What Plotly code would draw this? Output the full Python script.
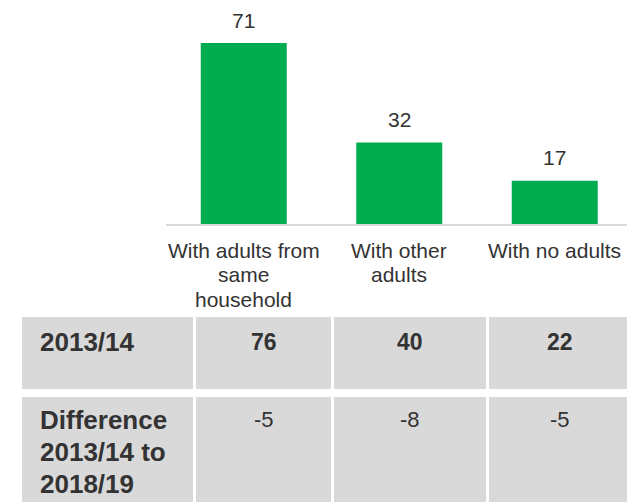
import plotly.graph_objects as go

# ---- data ----
categories = ["With adults from<br>same<br>household", "With other<br>adults", "With no adults"]
values_2018 = [71, 32, 17]
table_labels = ["2013/14", "Difference<br>2013/14 to<br>2018/19"]
values_2013 = [76, 40, 22]
differences = [-5, -8, -5]

# ---- style ----
OFF = 8  # page body margin
W, H = 635 - OFF, 502 - OFF
GREEN = "#00AC50"
GREY = "#D9D9D9"
TXT = "#333333"
FONT = "Liberation Sans, Arial, sans-serif"

def px_x(p):
    return (p - OFF) / W

def px_y(p):
    return 1 - (p - OFF) / H

fig = go.Figure()
fig.add_trace(go.Bar(
    x=categories, y=values_2018, marker=dict(color=GREEN, line=dict(width=0)),
    hoverinfo="skip", showlegend=False,
))

annotations = []
# value labels above bars
for c, v in zip(categories, values_2018):
    annotations.append(dict(x=c, y=v, xref="x", yref="y", text=str(v), showarrow=False,
                            yanchor="middle", xanchor="center", yshift=23,
                            font=dict(family=FONT, size=21, color=TXT)))

# category labels, one annotation per line
cat_first_line = 250
cat_spacing = 24.5
for c in categories:
    for i, line in enumerate(c.split("<br>")):
        annotations.append(dict(x=c, y=px_y(cat_first_line + i * cat_spacing), xref="x", yref="paper",
                                text=line, showarrow=False, yanchor="middle", xanchor="center",
                                font=dict(family=FONT, size=21, color=TXT)))

# table geometry (pixels in the page)
col_edges = [(22, 193), (196, 331), (334, 486), (489, 630)]
row_edges = [(317, 389), (397, 512)]
shapes = []
for (y0, y1) in row_edges:
    for (x0, x1) in col_edges:
        shapes.append(dict(type="rect", xref="paper", yref="paper",
                           x0=px_x(x0), x1=px_x(x1), y0=px_y(y1), y1=px_y(y0),
                           fillcolor=GREY, line=dict(width=0), layer="below"))

row_text_centers = [341.5, 419.7]
label_spacing = 32
label_x = 38
for r, lab in enumerate(table_labels):
    for i, line in enumerate(lab.split("<br>")):
        annotations.append(dict(x=px_x(label_x), y=px_y(row_text_centers[r] + i * label_spacing),
                                xref="paper", yref="paper", text="<b>" + line + "</b>", showarrow=False,
                                xanchor="left", yanchor="middle",
                                font=dict(family=FONT, size=26, color=TXT)))

for j, v in enumerate(values_2013):
    x0, x1 = col_edges[j + 1]
    annotations.append(dict(x=px_x((x0 + x1) / 2), y=px_y(row_text_centers[0]), xref="paper", yref="paper",
                            text="<b>" + str(v) + "</b>", showarrow=False, xanchor="center", yanchor="middle",
                            font=dict(family=FONT, size=23, color=TXT)))
for j, v in enumerate(differences):
    x0, x1 = col_edges[j + 1]
    annotations.append(dict(x=px_x((x0 + x1) / 2), y=px_y(row_text_centers[1]), xref="paper", yref="paper",
                            text=str(v), showarrow=False, xanchor="center", yanchor="middle",
                            font=dict(family=FONT, size=22, color=TXT)))

base_px = 224
top_px = 20
px_per_unit = (base_px - 43) / 71.0
ymax = (base_px - top_px) / px_per_unit

fig.update_layout(
    width=W, height=H, margin=dict(l=0, r=0, t=0, b=0),
    paper_bgcolor="white", plot_bgcolor="white",
    bargap=0.447, showlegend=False,
    xaxis=dict(domain=[px_x(166), px_x(632.5)], range=[-0.5, 2.5], showticklabels=False,
               showgrid=False, zeroline=False, showline=True, linecolor=GREY, linewidth=2,
               ticks="", fixedrange=True),
    yaxis=dict(domain=[px_y(base_px), px_y(top_px)], range=[0, ymax], visible=False,
               showgrid=False, zeroline=False, fixedrange=True),
    annotations=annotations, shapes=shapes,
    font=dict(family=FONT, color=TXT),
)

fig.write_html("out.html")
